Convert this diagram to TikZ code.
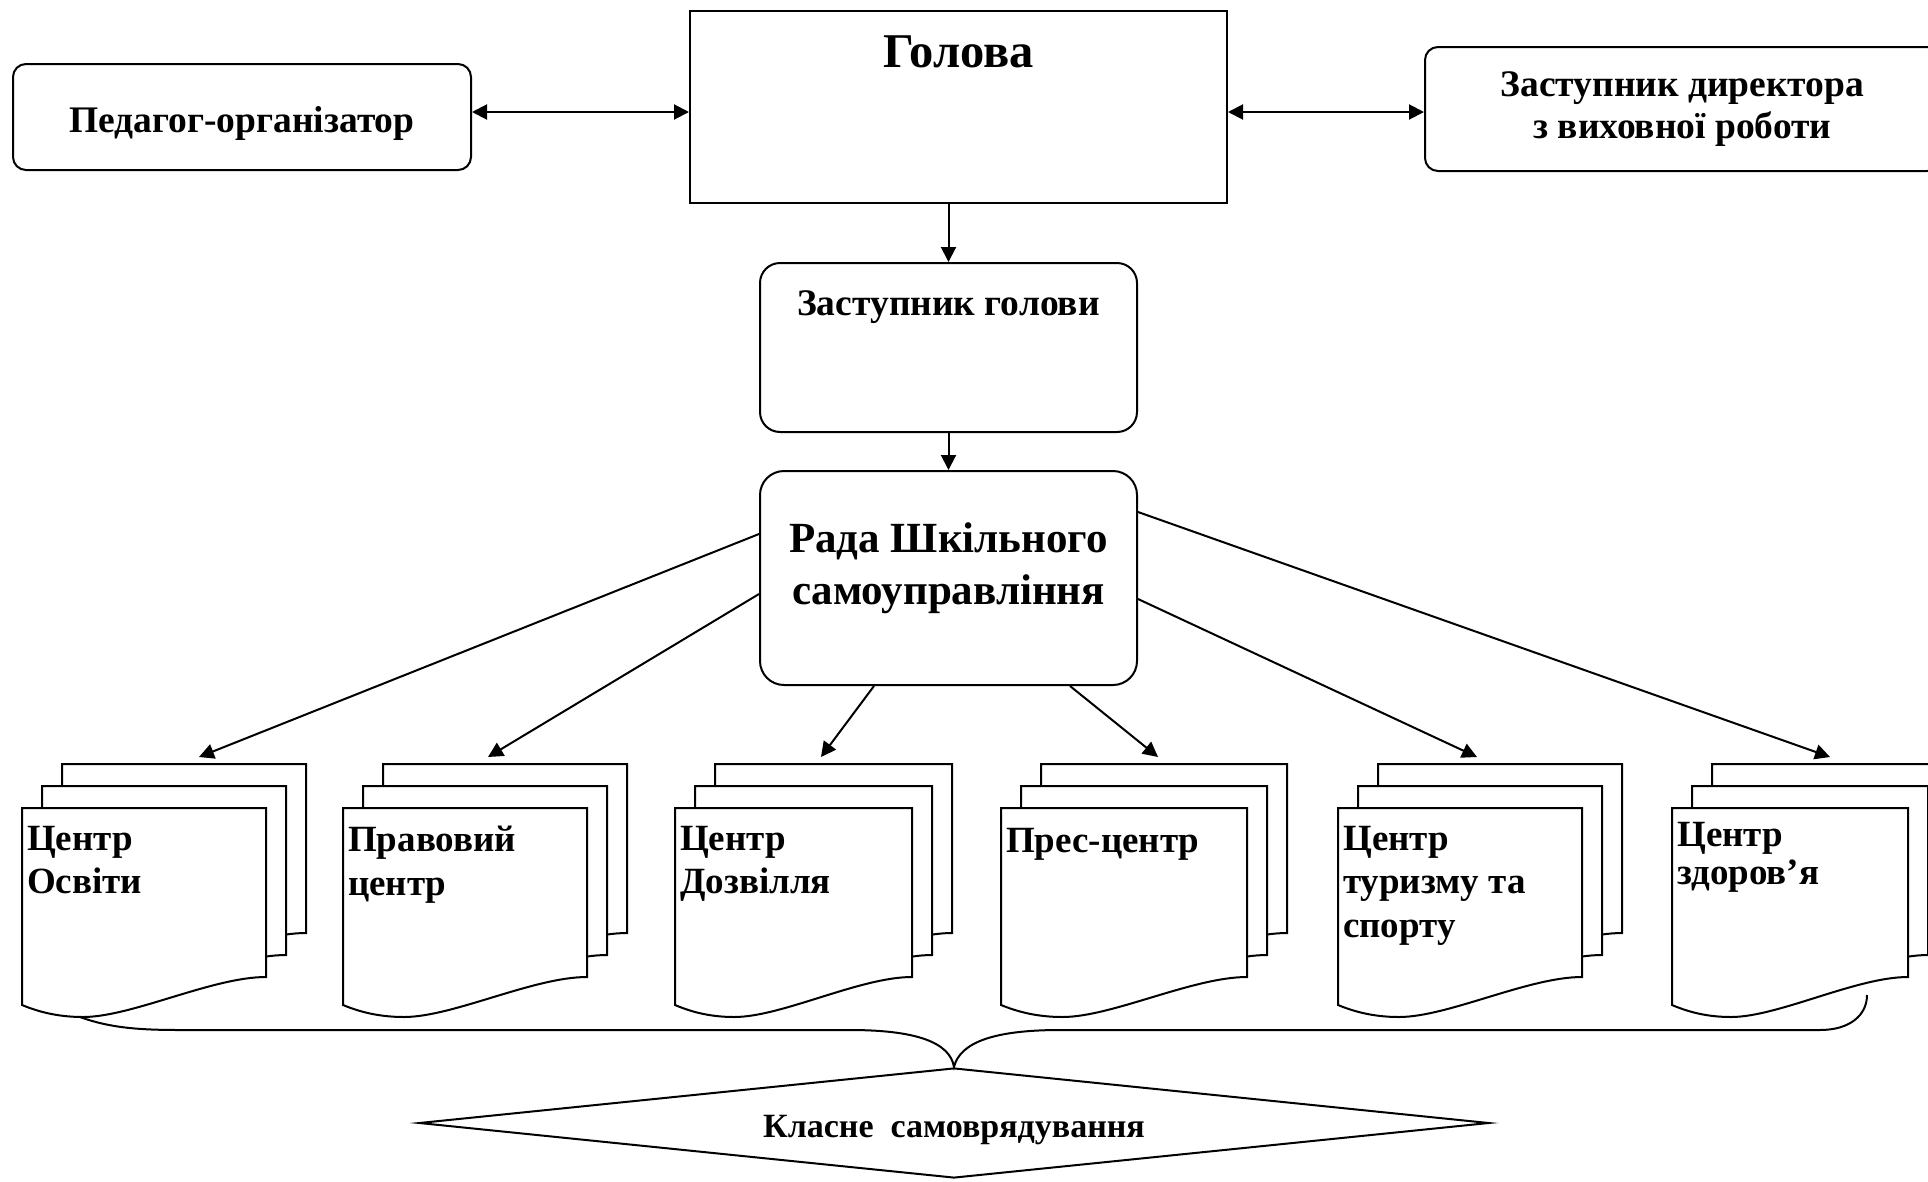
\documentclass[tikz,border=0pt]{standalone}
\usepackage{fontspec}
\setmainfont{Liberation Serif}
\usetikzlibrary{arrows.meta,shapes.geometric,calc}
\tikzset{
  box/.style={draw, line width=2pt, inner sep=0pt},
  conn/.style={line width=2pt, -{Triangle[length=15pt,width=15pt]}},
  bconn/.style={line width=2pt, {Triangle[length=15pt,width=15pt]}-{Triangle[length=15pt,width=15pt]}},
  page/.style={draw, fill=white, line width=2pt},
  lbl/.style={font=\fontsize{37.5}{42}\selectfont\bfseries, align=center, inner sep=0pt},
  doctext/.style={font=\fontsize{37}{43.5}\selectfont\bfseries, align=left, inner sep=0pt, anchor=north west},
}
\newcommand\onesheet[3]{%
  \begin{scope}[shift={(#1,#2)}]
    \draw[page] (0,0) -- (#3,0) -- (#3,169) .. controls (#3*0.78,169) and (#3*0.45,209) .. (#3*0.25,209)
      .. controls (#3*0.14,209) and (#3*0.06,203) .. (0,197) -- cycle;
  \end{scope}}
\newcommand\docstack[6]{% name, x0, tip x, width, text y, text
  \onesheet{#2+40}{764}{#4}\onesheet{#2+20}{786}{#4}\onesheet{#2}{808}{#4}
  \node[doctext] (#1) at (#2+5,#5) {#6};
  \coordinate (#1top) at (#3,757);
}
\begin{document}
\begin{tikzpicture}[x=1pt,y=-1pt]
\useasboundingbox (0,0) rectangle (1928,1181);
\fill[white] (0,0) rectangle (1928,1181);

% top row
\node[box, rounded corners=13pt, minimum width=458pt, minimum height=106pt] (ped) at (242,117) {};
\node[lbl] (pedt) at (242,123) {Педагог-організатор};
\node[box, minimum width=537pt, minimum height=192pt] (golova) at (958.5,107) {};
\node[lbl, font=\fontsize{48.5}{54}\selectfont\bfseries] (golovat) at (958.5,52) {Голова};
\node[box, rounded corners=13pt, minimum width=515pt, minimum height=124pt] (zd) at (1682.5,109) {};
\node[lbl] (zdt) at (1682.5,109) {Заступник директора\\з виховної роботи};

\draw[bconn] (ped.east |- 0,112) -- (golova.west |- 0,112);
\draw[bconn] (golova.east |- 0,112) -- (zd.west |- 0,112);

% middle column
\node[box, rounded corners=20pt, minimum width=377pt, minimum height=169pt] (zg) at (948.5,347.5) {};
\node[lbl] (zgt) at (948.5,307.5) {Заступник голови};
\node[box, rounded corners=24pt, minimum width=377pt, minimum height=214pt] (rada) at (948.5,578) {};
\node[lbl, font=\fontsize{43}{52}\selectfont\bfseries] (radat) at (948.5,568.5) {Рада Шкільного\\самоуправління};

\draw[conn] (zg.north |- golova.south) -- (zg.north);
\draw[conn] (zg.south) -- (rada.north);

% documents
\docstack{d1}{22}{199}{244}{826}{Центр\\Освіти}
\docstack{d2}{343}{488}{244}{826}{Правовий\\центр}
\docstack{d3}{675}{821}{237}{826}{Центр\\Дозвілля}
\docstack{d4}{1001}{1158}{246}{828}{Прес-центр}
\docstack{d5}{1338}{1477}{244}{826}{Центр\\туризму та\\спорту}
\docstack{d6}{1672}{1830}{236}{822}{Центр\\[-5pt]здоров’я}

% connectors from Rada
\draw[conn] ([yshift=44pt]rada.west) -- (d1top);
\draw[conn] ([yshift=-16pt]rada.west) -- (d2top);
\draw[conn] ([xshift=-74.5pt]rada.south) -- (d3top);
\draw[conn] ([xshift=121.5pt]rada.south) -- (d4top);
\draw[conn] ([yshift=-21pt]rada.east) -- (d5top);
\draw[conn] ([yshift=66pt]rada.east) -- (d6top);

% class self-government
\node[draw, line width=2pt, shape=diamond, aspect=9.64, inner sep=0pt,
      minimum width=1070pt, minimum height=110pt] (klas) at (954,1123) {};
\node[font=\fontsize{34}{40}\selectfont\bfseries, inner sep=0pt] (klast) at (954,1130) {Класне\ \ самоврядування};

% brace
\coordinate (brl) at (80,1017);
\coordinate (brr) at (1867,995);
\draw[line width=2pt] (brl) .. controls (110,1028) and (140,1030) .. (180,1030) -- (850,1030)
  .. controls (915,1030) and (950,1042) .. (klas.north)
  .. controls (960,1042) and (995,1030) .. (1060,1030) -- (1820,1030)
  .. controls (1850,1030) and (1867,1015) .. (brr);
\end{tikzpicture}
\end{document}
